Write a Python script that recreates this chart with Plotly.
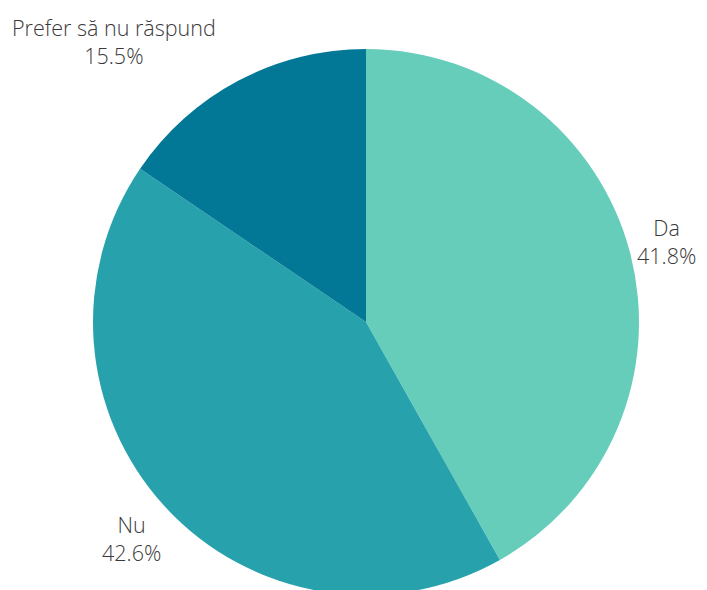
import plotly.graph_objects as go

labels = ["Da", "Nu", "Prefer să nu răspund"]
values = [41.8, 42.6, 15.5]
colors = ["#66CDBA", "#27A2AC", "#027896"]

W, H = 707, 590
OFF = 8  # default page body margin
# label anchor positions in pixels (centre of text block, page coords)
label_pos = [(666, 242), (131, 538), (114, 42)]

cx, top, r = 366 - OFF, 49 - OFF, 273
fig = go.Figure(go.Pie(
    labels=labels, values=values, sort=False, direction="clockwise",
    rotation=0, marker=dict(colors=colors, line=dict(width=0)),
    textinfo="none", hoverinfo="label+percent", showlegend=False,
    domain=dict(x=[(2 * cx - W) / W, 1.0],
                y=[1 - (top + 2 * r) / H, 1 - top / H]),
))

for lab, val, (px, py) in zip(labels, values, label_pos):
    fig.add_annotation(
        x=(px - OFF) / W, y=1 - (py - OFF) / H, xref="paper", yref="paper",
        text=f"{lab}<br>{val}%", showarrow=False, align="center",
        xanchor="center", yanchor="middle",
        font=dict(family="Open Sans", size=21.5, color="#3a3a3a", weight=300),
    )

fig.update_layout(
    width=W, height=H, margin=dict(l=0, r=0, t=0, b=0),
    paper_bgcolor="white", plot_bgcolor="white",
)
fig.write_html("out.html")
